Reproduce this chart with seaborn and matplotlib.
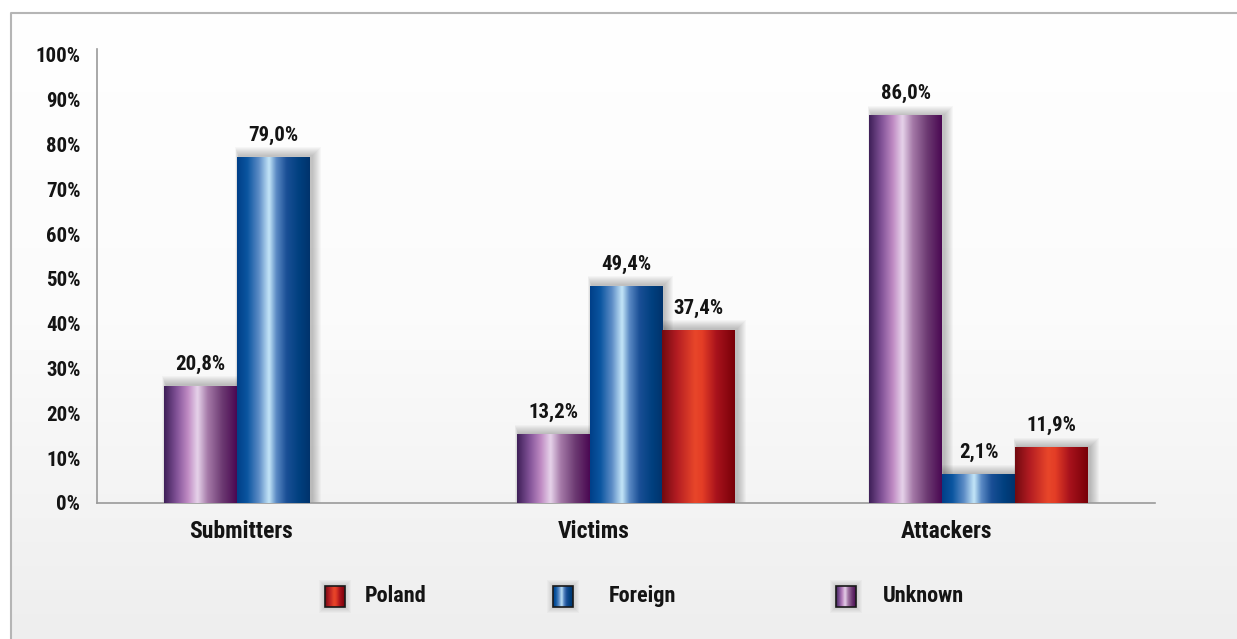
"""
Grouped bar chart: Unknown / Foreign / Poland shares for submitters, victims, attackers.
"""

import numpy as np
import pandas as pd
import matplotlib
matplotlib.use('Agg')
import matplotlib.pyplot as plt
import seaborn as sns
from matplotlib.colors import LinearSegmentedColormap, to_hex
from matplotlib.patches import Rectangle
from matplotlib.transforms import ScaledTranslation

# Data (bar heights as drawn, in %; printed labels as shown)
categories = ['Submitters', 'Victims', 'Attackers']
series = ['Unknown', 'Foreign', 'Poland']
unknown = [26.0, 15.2, 86.4]
foreign = [77.2, 48.4, 6.3]
poland = [np.nan, 38.5, 12.3]
unknown_lbl = ['20,8%', '13,2%', '86,0%']
foreign_lbl = ['79,0%', '49,4%', '2,1%']
poland_lbl = ['', '37,4%', '11,9%']
yticks = list(range(0, 101, 10))
ytick_labels = [f'{t}%' for t in yticks]
legend_order = ['Poland', 'Foreign', 'Unknown']

sns.set_style("white")
plt.rcParams['font.family'] = ['Roboto Condensed', 'Noto Sans ExtraCondensed', 'DejaVu Sans']
plt.rcParams['font.weight'] = 'bold'

TEXT = '#141414'
AXIS = '#9a9a9a'

base_colors = {'Unknown': '#6a3a78', 'Foreign': '#0a4f96', 'Poland': '#c01c22'}
gradients = {
    'Unknown': LinearSegmentedColormap.from_list('u', [
        (0.0, '#3e1f58'), (0.18, '#85559a'), (0.33, '#c08cc4'), (0.46, '#e6d3ea'),
        (0.6, '#a57aa8'), (0.8, '#6c3a72'), (1.0, '#4a0852')]),
    'Foreign': LinearSegmentedColormap.from_list('f', [
        (0.0, '#003f88'), (0.14, '#0a55a0'), (0.3, '#5d8cc6'), (0.44, '#c4e6f8'),
        (0.54, '#5b8ac4'), (0.68, '#1a4f96'), (0.85, '#00407f'), (1.0, '#00336c')]),
    'Poland': LinearSegmentedColormap.from_list('p', [
        (0.0, '#720a10'), (0.2, '#b21c22'), (0.45, '#e8462a'), (0.55, '#e43e26'),
        (0.75, '#a8121c'), (1.0, '#780008')]),
}
labels = {'Unknown': unknown_lbl, 'Foreign': foreign_lbl, 'Poland': poland_lbl}

df = pd.DataFrame({
    'category': categories * 3,
    'series': ['Unknown'] * 3 + ['Foreign'] * 3 + ['Poland'] * 3,
    'value': unknown + foreign + poland,
}).dropna()

W, H = 1237, 639
fig = plt.figure(figsize=(W / 100, H / 100), dpi=100)

# Background panel with border
bg = fig.add_axes([0, 0, 1, 1], zorder=-2)
bg.set_xlim(0, W)
bg.set_ylim(H, 0)
bg.axis('off')
grad_v = np.linspace(0, 1, 256)[:, None]
bg_cmap = LinearSegmentedColormap.from_list('bg', ['#ffffff', '#fbfbfb', '#eeeeee'])
bg.imshow(grad_v, cmap=bg_cmap, extent=[11, W, H, 13], aspect='auto', interpolation='bicubic')
bg.plot([11, 11, W], [H, 13, 13], color='#b5b5b5', lw=1.5, solid_capstyle='butt')

ax = fig.add_axes([97 / W, 136 / H, 1058 / W, 454 / H])
ax.patch.set_alpha(0)

sns.barplot(data=df, x='category', y='value', hue='series', order=categories,
            hue_order=series, palette=base_colors, saturation=1, width=0.62,
            errorbar=None, legend=False, ax=ax)

ax.set_xlim(-0.5, 2.5)
ax.set_ylim(0, 101.3)

# px per data unit
px_x = 1058 / 3.0
px_y = 454 / 101.3
grad_h = np.linspace(0, 1, 256)[None, :]

color_to_series = {to_hex(c): s for s, c in base_colors.items()}
bars = []
for p in list(ax.patches):
    h = p.get_height()
    if not np.isfinite(h) or h <= 0:
        continue
    s = color_to_series.get(to_hex(p.get_facecolor()[:3]))
    if s is None:
        continue
    bars.append((p, s))

# Shadows
for p, s in bars:
    x0, w, h = p.get_x(), p.get_width(), p.get_height()
    for k in range(1, 10):
        ex = k / px_x
        ey = k / px_y
        ax.add_patch(Rectangle((x0 - 0.4 * ex + 2 / px_x, 0), w + 1.4 * ex, h + ey + 1 / px_y,
                               facecolor='black', edgecolor='none', alpha=0.028, zorder=1))

# Gradient fills
for p, s in bars:
    x0, w, h = p.get_x(), p.get_width(), p.get_height()
    p.set_facecolor('none')
    p.set_edgecolor('none')
    ax.imshow(grad_h, cmap=gradients[s], extent=[x0, x0 + w, 0, h],
              aspect='auto', interpolation='bicubic', zorder=3)
    ci = int(round(x0 + w / 2))
    ax.annotate(labels[s][ci], (x0 + w / 2, h), xytext=(0, 9), textcoords='offset points',
                ha='center', va='bottom', fontsize=15, fontweight='bold', color=TEXT, zorder=5)

ax.set_xlim(-0.5, 2.5)
ax.set_ylim(0, 101.3)

# Axes styling
for side in ['top', 'right']:
    ax.spines[side].set_visible(False)
for side in ['left', 'bottom']:
    ax.spines[side].set_color(AXIS)
    ax.spines[side].set_linewidth(1.2)
ax.set_yticks(yticks)
ax.set_yticklabels(ytick_labels, fontsize=15, fontweight='bold', color=TEXT)
ax.tick_params(axis='y', direction='out', length=5, width=1, color=AXIS, pad=7)
ax.set_xticks(range(len(categories)))
ax.set_xticklabels(categories, fontsize=17, fontweight='bold', color=TEXT)
ax.set_xticks([-0.5, 0.5, 1.5, 2.5], minor=True)
ax.tick_params(axis='x', which='major', length=0, pad=12)
ax.tick_params(axis='x', which='minor', direction='out', length=8, width=1, color=AXIS)
shift = ScaledTranslation(-0.32, 0, fig.dpi_scale_trans)
for lbl in ax.get_xticklabels():
    lbl.set_transform(lbl.get_transform() + shift)
ax.set_xlabel('')
ax.set_ylabel('')

# Legend drawn with gradient swatches
legend_x = {'Poland': (325, 365), 'Foreign': (553, 609), 'Unknown': (836, 883)}
for s in legend_order:
    sx, tx = legend_x[s]
    for k in range(1, 7):
        bg.add_patch(Rectangle((sx - k, 586 - k), 20 + 2 * k, 21 + 2 * k,
                               facecolor='black', edgecolor='none', alpha=0.025, zorder=1))
    bg.imshow(grad_h, cmap=gradients[s], extent=[sx, sx + 20, 607, 586],
              aspect='auto', interpolation='bicubic', zorder=2)
    bg.add_patch(Rectangle((sx, 586), 20, 21, facecolor='none', edgecolor='#1a1a1a',
                           lw=1.2, zorder=3))
    bg.text(tx, 596, s, ha='left', va='center', fontsize=16, fontweight='bold',
            color=TEXT, zorder=3)
bg.set_xlim(0, W)
bg.set_ylim(H, 0)

fig.savefig('out.png', dpi=100)
